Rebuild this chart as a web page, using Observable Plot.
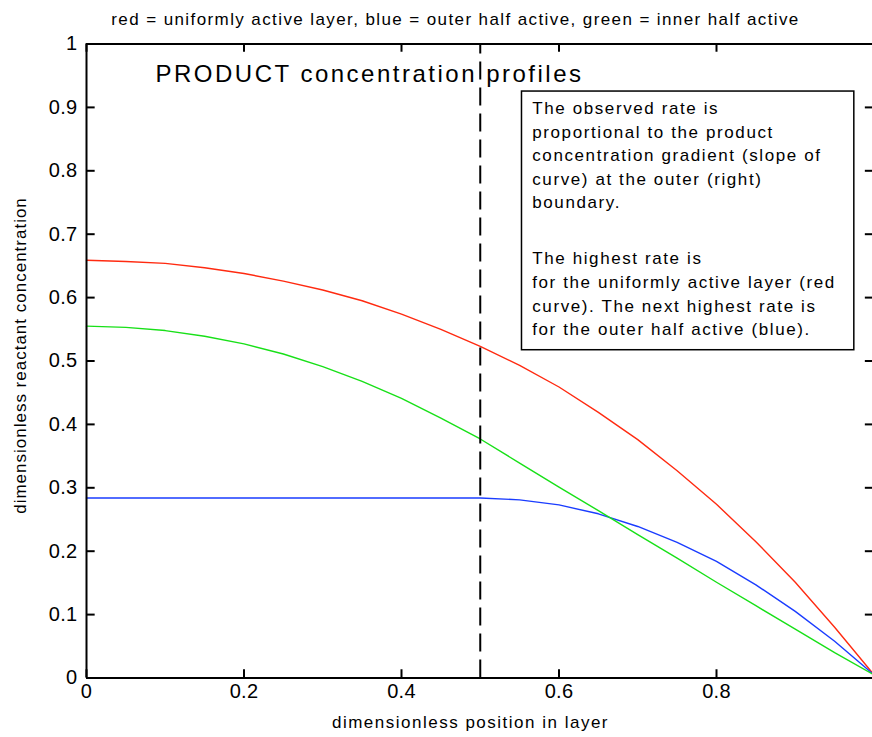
<!DOCTYPE html>
<html>
<head>
<meta charset="utf-8">
<script src="https://cdn.jsdelivr.net/npm/d3@7"></script>
<script src="https://cdn.jsdelivr.net/npm/@observablehq/plot@0.6"></script>
<style>
  html, body { margin: 0; padding: 0; background: #fff; }
  svg text { font-family: "Liberation Sans", Arial, sans-serif; }
</style>
</head>
<body>
<div id="chart"></div>
<script>
const position = [0, 0.05, 0.1, 0.15, 0.2, 0.25, 0.3, 0.35, 0.4, 0.45, 0.5, 0.55, 0.6, 0.65, 0.7, 0.75, 0.8, 0.85, 0.9, 0.95, 1];
const uniformRed = [0.659, 0.657, 0.654, 0.647, 0.638, 0.626, 0.612, 0.595, 0.574, 0.550, 0.523, 0.493, 0.459, 0.419, 0.376, 0.327, 0.274, 0.215, 0.151, 0.080, 0.005];
const outerBlue = [0.284, 0.284, 0.284, 0.284, 0.284, 0.284, 0.284, 0.284, 0.284, 0.284, 0.284, 0.281, 0.273, 0.259, 0.239, 0.214, 0.184, 0.147, 0.105, 0.058, 0.005];
const innerGreen = [0.555, 0.553, 0.548, 0.539, 0.527, 0.511, 0.491, 0.468, 0.441, 0.410, 0.377, 0.339, 0.301, 0.264, 0.226, 0.189, 0.151, 0.114, 0.077, 0.040, 0.005];

const xTicks = [0, 0.2, 0.4, 0.6, 0.8];
const xTickLabels = ["0", "0.2", "0.4", "0.6", "0.8"];
const yTicks = [0, 0.1, 0.2, 0.3, 0.4, 0.5, 0.6, 0.7, 0.8, 0.9, 1];
const yTickLabels = ["0", "0.1", "0.2", "0.3", "0.4", "0.5", "0.6", "0.7", "0.8", "0.9", "1"];
const dividerX = [0.5];

const titleText = "red = uniformly active layer, blue = outer half active, green = inner half active";
const xLabel = "dimensionless position in layer";
const yLabel = "dimensionless reactant concentration";
const panelTitle = "PRODUCT concentration profiles";
const noteBox = [{x1: 0.553, x2: 0.975, y1: 0.517, y2: 0.925}];
const notePara1 = "The observed rate is\nproportional to the product\nconcentration gradient (slope of\ncurve) at the outer (right)\nboundary.";
const notePara2 = "The highest rate is\nfor the uniformly active layer (red\ncurve). The next highest rate is\nfor the outer half active (blue).";

const series = [
  {name: "red", color: "#ff2a10", values: uniformRed},
  {name: "blue", color: "#1a3cff", values: outerBlue},
  {name: "green", color: "#18e018", values: innerGreen}
];
const rows = series.flatMap(s => position.map((p, i) => ({x: p, y: s.values[i], s: s.name, c: s.color})));

const W = 872, H = 737;
const chart = Plot.plot({
  width: W,
  height: H,
  marginLeft: 86,
  marginRight: 0,
  marginTop: 44,
  marginBottom: 59,
  x: {domain: [0, 1], range: [86, 873.5]},
  y: {domain: [0, 1], range: [677.5, 43.5]},
  style: {fontFamily: "Liberation Sans, Arial, sans-serif", fontSize: "17px", color: "#000", background: "#fff"},
  marks: [
    Plot.line(rows, {x: "x", y: "y", z: "s", stroke: "c", strokeWidth: 1.4}),
    Plot.ruleX(dividerX, {x: d => d, y1: 0, y2: 1, stroke: "#000", strokeWidth: 2, strokeDasharray: "18,8"}),
    Plot.ruleX([0, 1], {x: d => d, y1: 0, y2: 1, stroke: "#000", strokeWidth: 2}),
    Plot.ruleY([0, 1], {y: d => d, x1: 0, x2: 1, stroke: "#000", strokeWidth: 2}),
    Plot.ruleY(yTicks, {y: d => d, x1: 0, x2: 0.011, stroke: "#000", strokeWidth: 2}),
    Plot.ruleY(yTicks, {y: d => d, x1: 0.989, x2: 1, stroke: "#000", strokeWidth: 2}),
    Plot.ruleX(xTicks, {x: d => d, y1: 0, y2: 0.013, stroke: "#000", strokeWidth: 2}),
    Plot.ruleX(xTicks, {x: d => d, y1: 0.987, y2: 1, stroke: "#000", strokeWidth: 2}),
    Plot.axisY({ticks: yTicks, tickFormat: (d, i) => yTickLabels[i], tickSize: 0, tickPadding: 9, fontSize: 20, anchor: "left"}),
    Plot.axisX({ticks: xTicks, tickFormat: (d, i) => xTickLabels[i], tickSize: 0, tickPadding: 5, fontSize: 20, anchor: "bottom"}),
    Plot.text([xLabel], {frameAnchor: "bottom", dx: -9, dy: 49, fontSize: 17, text: d => d, className: "xl"}),
    Plot.text([yLabel], {frameAnchor: "left", textAnchor: "middle", dx: -66, dy: -6, rotate: -90, fontSize: 17, text: d => d, className: "yl"}),
    Plot.text([titleText], {frameAnchor: "top", dx: -24, dy: -32, fontSize: 17, text: d => d, className: "tl"}),
    Plot.text([panelTitle], {frameAnchor: "top-left", dx: 69, dy: 20, textAnchor: "start", fontSize: 24, text: d => d, className: "big"}),
    Plot.rect(noteBox, {x1: "x1", x2: "x2", y1: "y1", y2: "y2", fill: "#fff", stroke: "#000", strokeWidth: 1.5}),
    Plot.text([notePara1], {x: () => 0.566, y: () => 0.925, dy: 6, textAnchor: "start", lineAnchor: "top", lineHeight: 1.385, fontSize: 17, text: d => d, className: "note"}),
    Plot.text([notePara2], {x: () => 0.566, y: () => 0.925, dy: 156, textAnchor: "start", lineAnchor: "top", lineHeight: 1.39, fontSize: 17, text: d => d, className: "note"})
  ]
});
const svg = d3.select(chart);
svg.selectAll("text").attr("letter-spacing", "0.3px");
svg.selectAll(".tl text").attr("letter-spacing", "1.4px");
svg.selectAll(".xl text").attr("letter-spacing", "1.5px");
svg.selectAll(".yl text").attr("letter-spacing", "1.0px");
svg.selectAll(".big text").attr("letter-spacing", "2.5px");
svg.selectAll(".note text").attr("letter-spacing", "1.6px");
document.getElementById("chart").appendChild(chart);
</script>
</body>
</html>
